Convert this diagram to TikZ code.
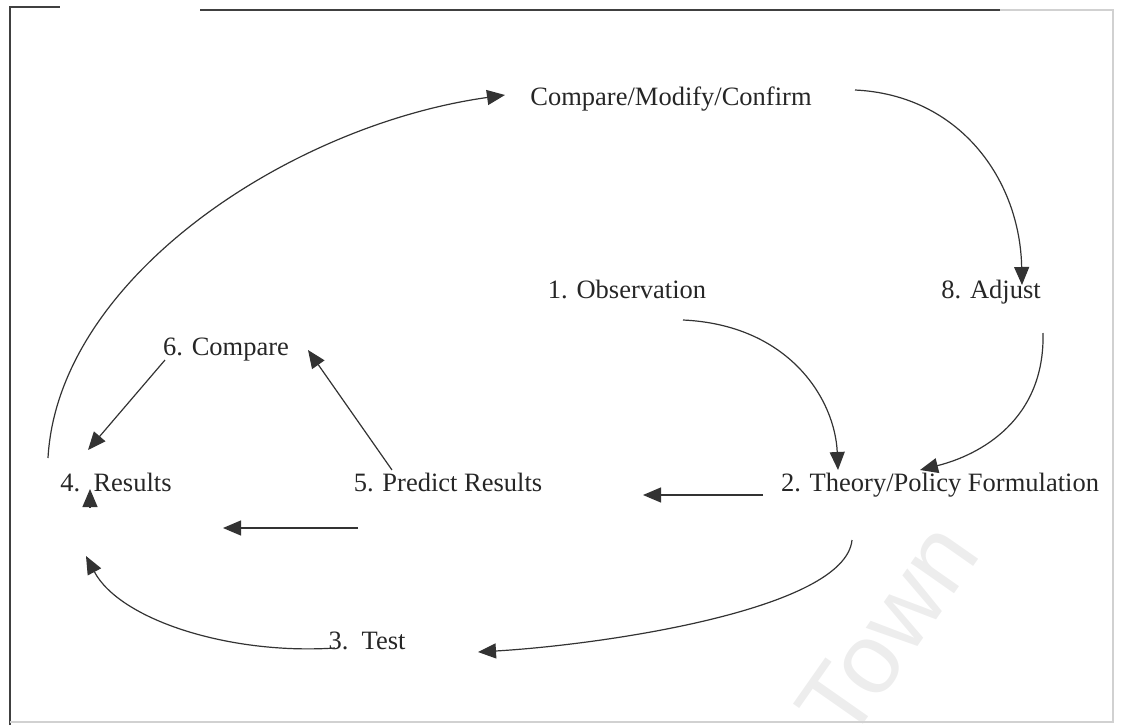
\documentclass[tikz,border=0pt]{standalone}
\usepackage{fontspec}
\setmainfont{Liberation Serif}
\newfontfamily\wmfont{Liberation Sans}
\usetikzlibrary{arrows.meta,calc}
\tikzset{
  lbl/.style={anchor=base, inner sep=0pt, font=\fontsize{26.5}{30}\selectfont, text=black!85},
  link/.style={draw=black!80, line width=1.2pt, -{Triangle[length=18pt,width=15pt]}},
  frameline/.style={draw=black!75, line width=1.6pt},
  faintline/.style={draw=black!18, line width=1.2pt}
}
\begin{document}
\begin{tikzpicture}[x=1pt,y=-1pt]
  \useasboundingbox (0,0) rectangle (1123,725);
  \clip (0,0) rectangle (1123,725);

  % faint watermark
  \node[text=black!7, font=\wmfont\fontsize{100}{110}\selectfont, rotate=55, inner sep=0pt] (wm) at (888,630) {Town};

  % frame
  \draw[frameline] (10,725) -- (10,7) -- (60,7);
  \draw[frameline] (200,10) -- (1000,10);
  \draw[faintline] (1000,10) -- (1113,10) -- (1113,722) -- (10,722);

  % labels
  \node[lbl] (cmc)  at (671,105) {Compare/Modify/Confirm};
  \node[lbl] (obs)  at (627,298) {1. Observation};
  \node[lbl] (adj)  at (991,298) {8. Adjust};
  \node[lbl] (cmp)  at (226,355) {6. Compare};
  \node[lbl] (res)  at (116,491) {4.\,\,\,Results};
  \node[lbl] (pred) at (448,491) {5. Predict Results};
  \node[lbl] (theo) at (940,491) {2. Theory/Policy Formulation};
  \node[lbl] (test) at (367,649) {3.\ \ Test};

  % connectors
  \draw[link] ($(obs.base)+(56,22)$) .. controls +(107,5) and +(-3,-70) .. ($(theo.base)+(-102,-21)$);
  \draw[link] ($(adj.base)+(52,35)$) .. controls +(2,87) and +(60,-15) .. ($(theo.base)+(-20,-21)$);
  \draw[link] ($(cmc.base)+(184,-15)$) .. controls +(105,5) and +(-2,-105) .. ($(adj.base)+(31,-13)$);
  \draw[link] ($(res.base)+(-68,-33)$) .. controls +(10,-180) and +(-215,30) .. ($(cmc.base)+(-166,-10)$);
  \draw[link] ($(cmp.base)+(-61,5)$) -- ($(res.base)+(-28,-41)$);
  \draw[link] ($(pred.base)+(-56,-21)$) -- ($(cmp.base)+(82,-5)$);
  \draw[link] ($(theo.base)+(-177,4)$) -- ($(pred.base)+(195,4)$);
  \draw[link] ($(pred.base)+(-90,37)$) -- ($(res.base)+(107,37)$);
  \draw[link] ($(theo.base)+(-88,49)$) .. controls +(-7,70) and +(122,-7) .. ($(test.base)+(111,3)$);
  \draw[link] ($(test.base)+(-32,-1)$) .. controls +(-105,7) and +(34,64) .. ($(res.base)+(-30,65)$);
  \draw[link] ($(res.base)+(-26,17)$) -- ($(res.base)+(-26,-2)$);
\end{tikzpicture}
\end{document}
